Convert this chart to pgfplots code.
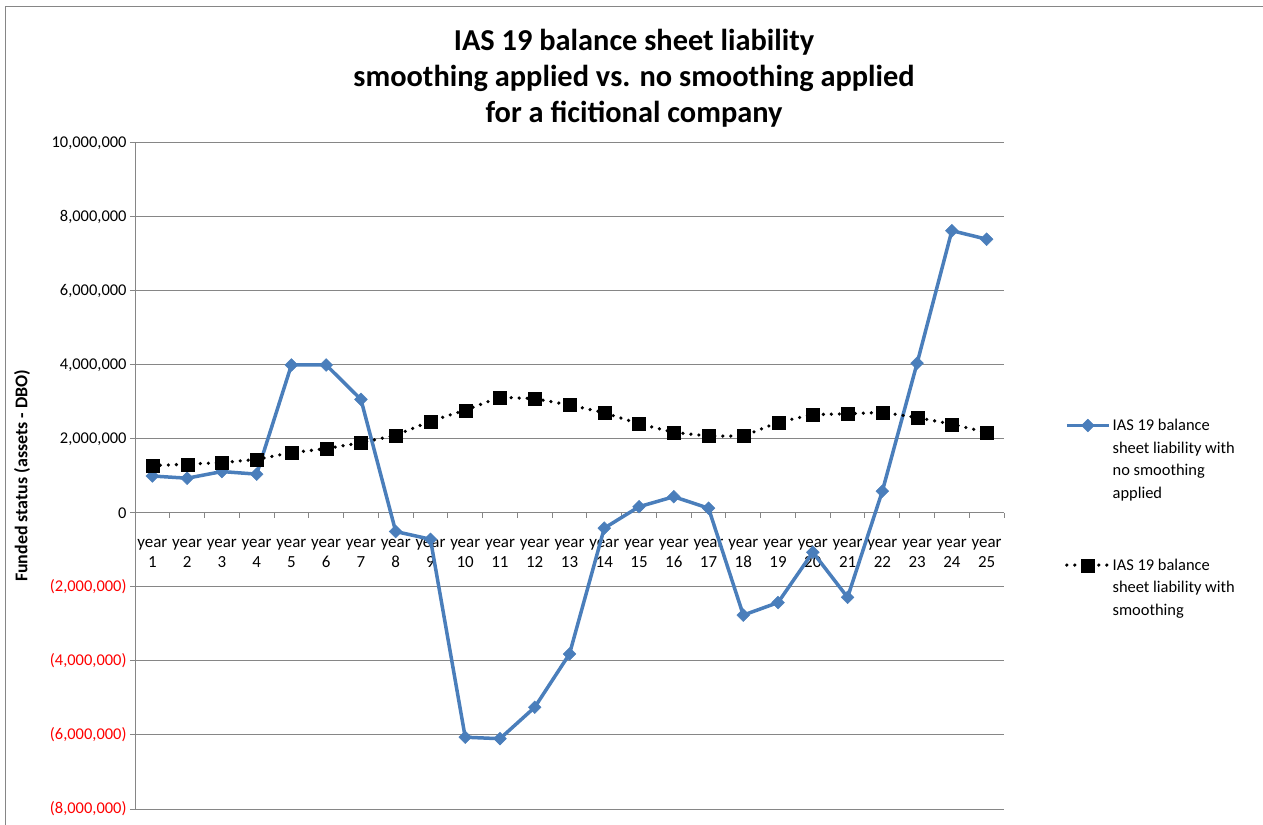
\documentclass[border=0pt]{standalone}
\usepackage{pgfplots}
\pgfplotsset{compat=1.18}
\usepackage{fontspec}
\setmainfont{Carlito}
\definecolor{exblue}{HTML}{4A7EBB}
\definecolor{exgray}{HTML}{868686}
\begin{document}
\begin{tikzpicture}
\useasboundingbox (0,0) rectangle (1263bp,825bp);
\draw[exgray, line width=1bp] (5bp,0) -- (5bp,818bp) -- (1263bp,818bp);
\node[align=center, font=\fontsize{30.5}{36}\selectfont\bfseries] at (634bp,747bp)
 {IAS 19 balance sheet liability\\smoothing applied vs. no smoothing applied\\for a ficitional company};
\begin{axis}[
  at={(135bp,16bp)}, anchor=south west,
  scale only axis, width=869bp, height=666bp,
  xmin=0.5, xmax=25.5, ymin=-8000000, ymax=10000000,
  axis y line*=left, axis x line*=middle,
  axis line style={exgray, line width=1bp},
  ytick={-8000000,-6000000,-4000000,-2000000,0,2000000,4000000,6000000,8000000,10000000},
  yticklabels={{\color{red}(8,000,000)},{\color{red}(6,000,000)},{\color{red}(4,000,000)},{\color{red}(2,000,000)},0,{2,000,000},{4,000,000},{6,000,000},{8,000,000},{10,000,000}},
  scaled y ticks=false,
  ymajorgrids, grid style={exgray, line width=1bp},
  xtick={1,...,25},
  xticklabels={{year\\1},{year\\2},{year\\3},{year\\4},{year\\5},{year\\6},{year\\7},{year\\8},{year\\9},{year\\10},{year\\11},{year\\12},{year\\13},{year\\14},{year\\15},{year\\16},{year\\17},{year\\18},{year\\19},{year\\20},{year\\21},{year\\22},{year\\23},{year\\24},{year\\25}},
  minor xtick={1.5,2.5,...,25.5},
  tick align=outside,
  major tick length=5bp, minor tick length=5bp,
  major x tick style={draw=none},
  minor x tick style={exgray, line width=1bp},
  major y tick style={exgray, line width=1bp},
  xticklabel style={align=center, font=\fontsize{17}{20}\selectfont, inner sep=1bp, yshift=-20bp},
  yticklabel style={font=\fontsize{16.5}{20}\selectfont},
  ylabel={Funded status (assets - DBO)},
  ylabel style={at={(axis description cs:-0.13,0.5)}, anchor=center, font=\fontsize{18}{20}\selectfont\bfseries},
  legend style={at={(axis description cs:1.07,0.5885)}, anchor=north west, draw=none, fill=none,
    font=\fontsize{16.5}{22.6}\selectfont, row sep=55bp, inner sep=0pt,
    cells={align=left}},
  legend cell align=left,
  clip=false,
]
\addplot[exblue, line width=3.5bp, mark=square*, mark size=4.5bp, mark options={rotate=45, fill=exblue, draw=exblue, line width=0.5bp},
  legend image code/.code={\draw[mark repeat=2,mark phase=2, yshift=34bp] plot coordinates {(0bp,0bp) (21bp,0bp) (42bp,0bp)};}]
coordinates {
(1,1000000) (2,940000) (3,1120000) (4,1050000) (5,4000000) (6,4000000) (7,3070000)
(8,-500000) (9,-710000) (10,-6060000) (11,-6100000) (12,-5250000) (13,-3810000)
(14,-410000) (15,170000) (16,440000) (17,130000) (18,-2760000) (19,-2420000)
(20,-1060000) (21,-2280000) (22,590000) (23,4050000) (24,7630000) (25,7400000)
};
\addlegendentry{IAS 19 balance\\sheet liability with\\no smoothing\\applied}
\addplot[black, line width=3.6bp, line cap=round, dash pattern=on 0pt off 8bp, mark=square*, mark size=6.5bp, mark options={solid, fill=black, line width=0.1bp},
  legend image code/.code={\draw[mark repeat=2,mark phase=2, yshift=22.6bp] plot coordinates {(0bp,0bp) (21bp,0bp) (42bp,0bp)};}]
coordinates {
(1,1280000) (2,1320000) (3,1360000) (4,1450000) (5,1630000) (6,1740000) (7,1900000)
(8,2100000) (9,2480000) (10,2780000) (11,3130000) (12,3090000) (13,2920000)
(14,2710000) (15,2410000) (16,2180000) (17,2080000) (18,2080000) (19,2450000)
(20,2660000) (21,2680000) (22,2720000) (23,2580000) (24,2400000) (25,2180000)
};
\addlegendentry{IAS 19 balance\\sheet liability with\\smoothing}
\end{axis}
\end{tikzpicture}
\end{document}
